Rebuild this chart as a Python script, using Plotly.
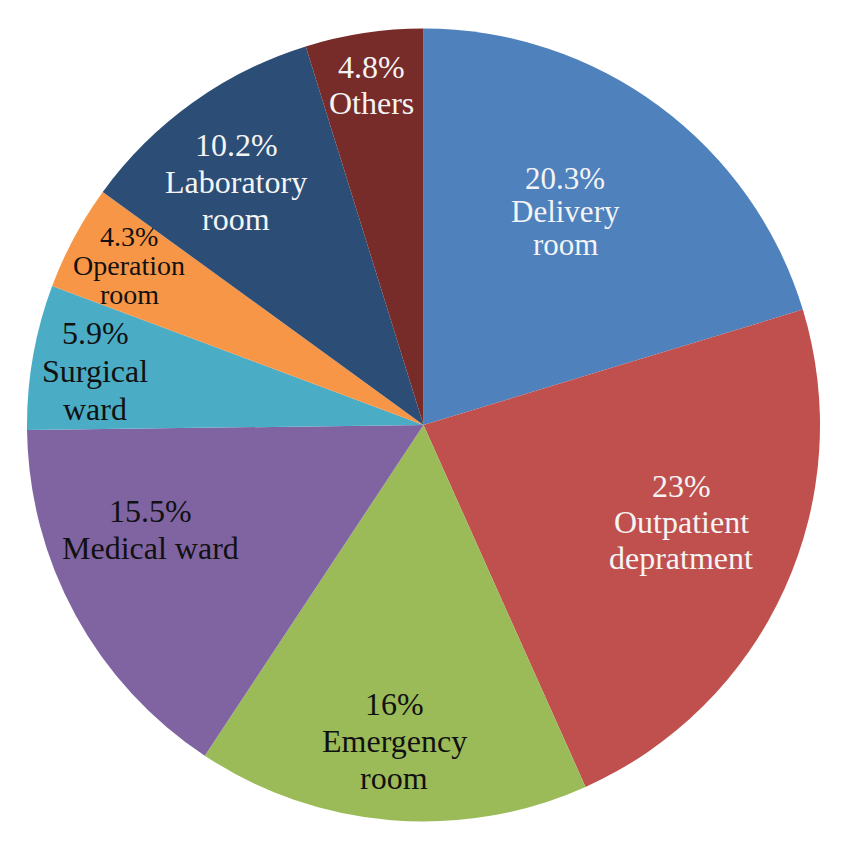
import plotly.graph_objects as go

# Distribution by department (%)
departments = ["Delivery room", "Outpatient depratment", "Emergency room", "Medical ward",
               "Surgical ward", "Operation room", "Laboratory room", "Others"]
shares = [20.3, 23, 16, 15.5, 5.9, 4.3, 10.2, 4.8]
share_labels = ["20.3%", "23%", "16%", "15.5%", "5.9%", "4.3%", "10.2%", "4.8%"]
name_lines = [["Delivery", "room"], ["Outpatient", "depratment"], ["Emergency", "room"],
              ["Medical ward"], ["Surgical", "ward"], ["Operation", "room"],
              ["Laboratory", "room"], ["Others"]]

colors = ["#4F81BD", "#C0504D", "#9BBB59", "#8064A2", "#4BACC6", "#F79646", "#2C4D75", "#772C2A"]
text_colors = ["#F4F4F4", "#F4F4F4", "#111111", "#111111", "#111111", "#111111", "#F4F4F4", "#F4F4F4"]

W, H = 850, 851
OFF = 8  # page body margin

# label placement in pixels: (x centre, y of first line, line step, font size)
label_pos = [(565, 178, 33, 31), (681, 486, 36, 32), (394, 704, 37, 32), (150, 511, 37, 32),
             (95, 333, 38, 32), (129, 236, 29, 28), (236, 145, 37, 32), (371, 67, 36, 32)]


def px(x):
    return (x - OFF) / W


def py(y):
    return 1 - (y - OFF) / H


fig = go.Figure(go.Pie(
    labels=departments,
    values=shares,
    sort=False,
    direction="clockwise",
    rotation=0,
    textinfo="none",
    hoverinfo="label+percent",
    marker=dict(colors=colors, line=dict(color="white", width=0)),
    domain=dict(x=[px(27), px(820)], y=[py(822), py(28)]),
    showlegend=False,
))

annotations = []
for i in range(len(departments)):
    x, y0, step, size = label_pos[i]
    lines = [share_labels[i]] + name_lines[i]
    for j, line in enumerate(lines):
        annotations.append(dict(
            x=px(x), y=py(y0 + j * step), xref="paper", yref="paper",
            text=line, showarrow=False, xanchor="center", yanchor="middle",
            font=dict(family="Liberation Serif", size=size, color=text_colors[i]),
        ))

fig.update_layout(
    width=W, height=H,
    margin=dict(l=0, r=0, t=0, b=0),
    paper_bgcolor="white",
    annotations=annotations,
)

fig.write_html("out.html")
